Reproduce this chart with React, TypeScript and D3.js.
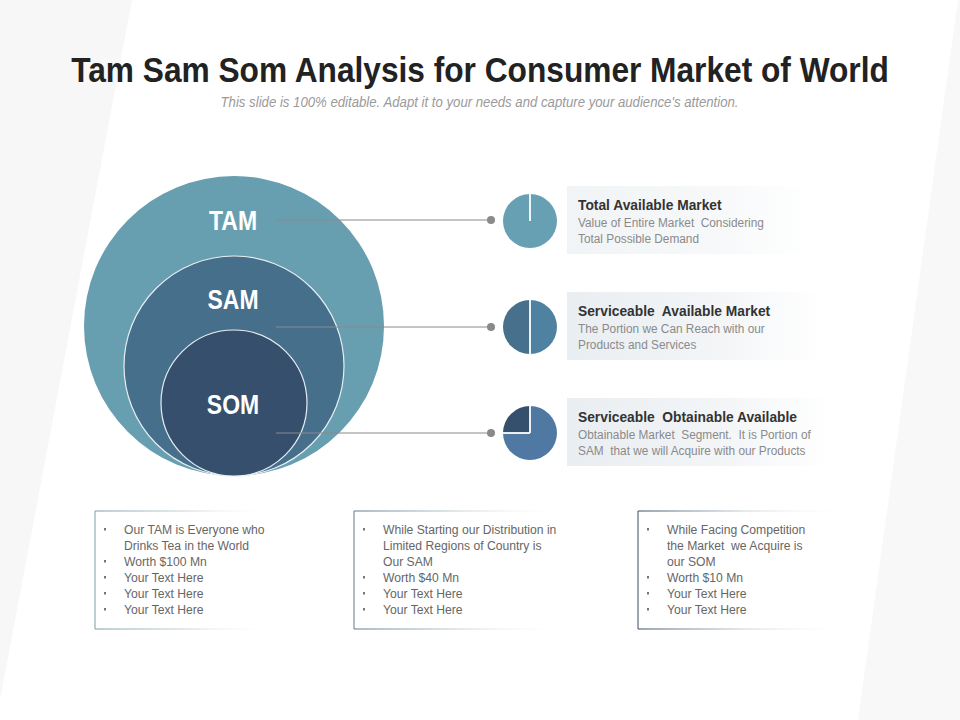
import React from "react";
import * as d3 from "d3";

const title = "Tam Sam Som Analysis for Consumer Market of World";
const subtitle = "This slide is 100% editable. Adapt it to your needs and capture your audience's attention.";

const markets = ["TAM", "SAM", "SOM"];
const marketValues = [100, 40, 10];
const bubbleColors = ["#679fb1", "#466f8b", "#354f6c"];

const pieShares = [[100], [50, 50], [75, 25]];
const pieColors = [["#67a0b3"], ["#4f81a1", "#46708b"], ["#4f79a3", "#34506c"]];

const cardTitles = ["Total Available Market", "Serviceable  Available Market", "Serviceable  Obtainable Available"];
const cardLines = [
  ["Value of Entire Market  Considering", "Total Possible Demand"],
  ["The Portion we Can Reach with our", "Products and Services"],
  ["Obtainable Market  Segment.  It is Portion of", "SAM  that we will Acquire with our Products"],
];

const bulletLists = [
  ["Our TAM is Everyone who", "\u00a0Drinks Tea in the World", "Worth $100 Mn", "Your Text Here", "Your Text Here", "Your Text Here"],
  ["While Starting our Distribution in", "\u00a0Limited Regions of Country is", "\u00a0Our SAM", "Worth $40 Mn", "Your Text Here", "Your Text Here"],
  ["While Facing Competition", "\u00a0the Market  we Acquire is", "\u00a0our SOM", "Worth $10 Mn", "Your Text Here", "Your Text Here"],
];
const boxBorderColors = ["#7b9ea8", "#5d7a8c", "#3b4f66"];

const SANS = "'Liberation Sans', Arial, sans-serif";
const SX = 0.82;

function NText(props: {
  x: number; y: number; size: number; fill: string; bold?: boolean; italic?: boolean;
  anchor?: string; sx?: number; children: React.ReactNode;
}) {
  const { x, y, size, fill, bold, italic, anchor, sx, children } = props;
  return (
    <text transform={`translate(${x},${y}) scale(${sx ?? SX},1)`} x={0} y={0} fontFamily={SANS}
      fontWeight={bold ? "bold" : "normal"} fontStyle={italic ? "italic" : "normal"} fontSize={size}
      fill={fill} textAnchor={anchor ?? "start"} style={{ whiteSpace: "pre" }}>{children}</text>
  );
}

export default function App() {
  const W = 960, H = 720;
  const cx = 234, bottomY = 476;
  const rScale = d3.scaleLinear().domain([10, 40, 100]).range([73, 110, 150]);
  const labelY = [220, 299, 404];
  const rowY = d3.scalePoint<string>().domain(markets).range([221, 433]);
  const pieCx = 530, pieR = 27;
  const arc = d3.arc<d3.PieArcDatum<number>>().innerRadius(0).outerRadius(pieR);
  const pie = d3.pie<number>().sort(null);

  const cardX = 567;
  const cardW = [243, 253, 263];
  const boxX = [95, 354, 638];
  const boxW = [180, 215, 215];
  const boxTop = 511, boxBottom = 629;
  const lineY = d3.scaleLinear().domain([0, 1]).range([529, 545]);

  return (
    <svg width={W} height={H} style={{ position: "absolute", left: 0, top: 0, display: "block" }}>
      <defs>
        {markets.map((m, i) => (
          <linearGradient key={m} id={`card${i}`} x1="0" x2="1" y1="0" y2="0">
            <stop offset="0" stopColor={i === 0 ? "#f1f4f6" : "#e9eef2"} />
            <stop offset="0.6" stopColor={i === 0 ? "#f6f8f9" : "#f3f5f7"} />
            <stop offset="1" stopColor="#ffffff" />
          </linearGradient>
        ))}
        {markets.map((m, i) => (
          <linearGradient key={m} id={`edge${i}`} x1="0" x2="1" y1="0" y2="0">
            <stop offset="0" stopColor={boxBorderColors[i]} />
            <stop offset="0.5" stopColor="#c9d3d8" />
            <stop offset="1" stopColor="#ffffff" stopOpacity="0" />
          </linearGradient>
        ))}
      </defs>
      <rect width={W} height={H} fill="#ffffff" />
      <path d="M0,0 L132,0 L0,700 Z" fill="#f7f7f7" />
      <path d="M958,0 L960,0 L960,720 L858,720 Z" fill="#f8f8f8" />

      <NText x={480} y={82} size={36} bold fill="#222" anchor="middle" sx={0.88}>{title}</NText>
      <NText x={479.5} y={107} size={15} italic fill="#9a9a9a" anchor="middle" sx={0.88}>{subtitle}</NText>

      {markets.map((m, i) => {
        const r = rScale(marketValues[i]);
        return (
          <circle key={m} cx={cx} cy={bottomY - r} r={r} fill={bubbleColors[i]}
            stroke={i === 0 ? "none" : "#e8eef2"} strokeWidth={1.2} />
        );
      })}
      {markets.map((m, i) => (
        <NText key={m} x={cx - 1} y={labelY[i] + 10} size={28} bold fill="#ffffff" anchor="middle">{m}</NText>
      ))}

      {markets.map((m, i) => {
        const y = rowY(m)! - (i === 0 ? 1 : 0);
        return (
          <g key={m}>
            <line x1={276} x2={491} y1={y} y2={y} stroke="#8a8a8a" strokeWidth={1} />
            <circle cx={491} cy={y} r={4} fill="#8a8a8a" />
          </g>
        );
      })}

      {markets.map((m, i) => {
        const y = rowY(m)!;
        const arcs = pie(pieShares[i]);
        return (
          <g key={m} transform={`translate(${pieCx},${y})`}>
            {arcs.map((a, j) => (
              <path key={j} d={arc(a)!} fill={pieColors[i][j]} />
            ))}
            {arcs.map((a, j) => (
              <line key={"s" + j} x1={0} y1={0} x2={pieR * Math.sin(a.startAngle)} y2={-pieR * Math.cos(a.startAngle)}
                stroke="#ffffff" strokeWidth={1.8} />
            ))}
          </g>
        );
      })}

      {markets.map((m, i) => {
        const y = rowY(m)!;
        return (
          <g key={m}>
            <rect x={cardX} y={y - 35} width={cardW[i]} height={68} fill={`url(#card${i})`} />
            <NText x={578} y={y - 11} size={15} bold fill="#333" sx={0.92}>{cardTitles[i]}</NText>
            {cardLines[i].map((t, k) => (
              <NText key={k} x={578} y={y + 5.5 + k * 16} size={13.5} fill="#8a8a8a" sx={0.877}>{t}</NText>
            ))}
          </g>
        );
      })}

      {markets.map((m, i) => {
        const x = boxX[i];
        return (
          <g key={m}>
            <rect x={x} y={boxTop} width={boxW[i]} height={boxBottom - boxTop} fill="#ffffff" />
            <line x1={x} x2={x} y1={boxTop} y2={boxBottom} stroke={boxBorderColors[i]} strokeWidth={1} />
            <rect x={x} y={boxTop - 0.5} width={boxW[i]} height={1} fill={`url(#edge${i})`} />
            <rect x={x} y={boxBottom - 0.5} width={boxW[i]} height={1} fill={`url(#edge${i})`} />
            {bulletLists[i].map((t, k) => {
              const isCont = t.startsWith("\u00a0");
              return (
                <g key={k}>
                  {!isCont && <rect x={x + 9} y={lineY(k) - 1} width={2} height={2.5} fill="#777" />}
                  <NText x={x + 29} y={lineY(k) + 5} size={13.5} fill="#666" sx={0.9}>{t.replace("\u00a0", "")}</NText>
                </g>
              );
            })}
          </g>
        );
      })}
    </svg>
  );
}
